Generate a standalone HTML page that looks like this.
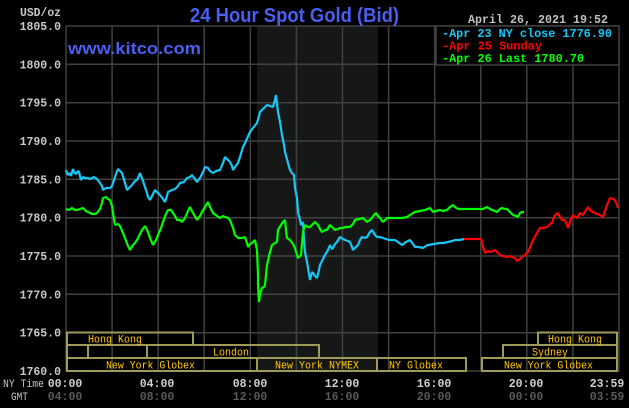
<!DOCTYPE html>
<html><head><meta charset="utf-8"><style>
html,body{margin:0;padding:0;background:#000;}
svg{display:block;}
</style></head><body>
<svg width="629" height="408" viewBox="0 0 629 408" xmlns="http://www.w3.org/2000/svg">
<rect x="0" y="0" width="629" height="408" fill="#000"/>
<rect x="257" y="26" width="121" height="345" fill="#161817"/>
<g stroke="#414141" stroke-width="1.5" fill="none">
<line x1="66" y1="26" x2="619" y2="26"/>
<line x1="66" y1="64.3" x2="619" y2="64.3"/>
<line x1="66" y1="102.7" x2="619" y2="102.7"/>
<line x1="66" y1="141" x2="619" y2="141"/>
<line x1="66" y1="179.3" x2="619" y2="179.3"/>
<line x1="66" y1="217.7" x2="619" y2="217.7"/>
<line x1="66" y1="256" x2="619" y2="256"/>
<line x1="66" y1="294.3" x2="619" y2="294.3"/>
<line x1="66" y1="332.7" x2="619" y2="332.7"/>
<line x1="66" y1="371" x2="619" y2="371"/>
<line x1="66" y1="26" x2="66" y2="371"/>
<line x1="112.1" y1="26" x2="112.1" y2="371"/>
<line x1="158.2" y1="26" x2="158.2" y2="371"/>
<line x1="204.2" y1="26" x2="204.2" y2="371"/>
<line x1="250.3" y1="26" x2="250.3" y2="371"/>
<line x1="296.4" y1="26" x2="296.4" y2="371"/>
<line x1="342.5" y1="26" x2="342.5" y2="371"/>
<line x1="388.6" y1="26" x2="388.6" y2="371"/>
<line x1="434.7" y1="26" x2="434.7" y2="371"/>
<line x1="480.8" y1="26" x2="480.8" y2="371"/>
<line x1="526.8" y1="26" x2="526.8" y2="371"/>
<line x1="572.9" y1="26" x2="572.9" y2="371"/>
<line x1="619" y1="26" x2="619" y2="371"/>
</g>

<!-- Apr 23 cyan -->
<polyline fill="none" stroke="#16c8f8" stroke-width="2.2" stroke-linejoin="bevel" points="66,170 67,173 68,175 70,173 71,176 73,169 74,172 76,174 78,171 79,172 81,180 83,177 85,178 88,178 90,179 94,177 97,179 100,183 102,186 103,190 106,188 110,188 112,186 113,183 116,174 118,169 120,171 122,173 125,183 127,190 130,187 132,185 135,181 137,180 139,176 140,173 142,178 145,187 147,193 148,197 150,200 153,194 155,190 158,193 160,195 163,199 165,202 167,196 168,192 172,190 175,189 178,186 180,183 184,182 187,178 190,177 192,175 195,179 197,182 200,178 203,172 205,167 208,168 210,171 213,173 216,171 220,170 223,163 225,157 228,160 230,162 232,166 233,170 235,167 238,163 240,157 243,147 246,141 250,132 253,128 257,123 259,116 260,112 263,109 267,105 270,106 273,107 275,100 276,95 277,104 278,112 280,122 282,135 284,145 285,152 288,163 290,170 292,173 294,175 295,188 297,198 298,212 300,220 301,225 303,222 304,240 305,252 307,262 308,268 310,280 312,272 313,273 315,276 317,278 319,270 320,265 323,259 325,255 328,250 330,245 332,249 333,248 335,244 337,242 340,237 343,239 345,240 348,241 350,242 352,247 353,250 356,247 358,245 360,240 362,237 365,238 367,237 370,232 372,230 375,235 377,237 380,237 383,238 386,239 389,240 392,240 395,240 398,242 402,245 406,242 410,240 413,244 415,247 419,247 423,248 426,246 428,245 434,244 440,243 444,243 448,242 452,241 455,240 460,240 464,239"/>

<!-- Apr 25 red -->
<polyline fill="none" stroke="#ff0000" stroke-width="2.2" stroke-linejoin="bevel" points="464,239 481,239 483,247 485,253 488,251 490,252 493,251 495,250 498,253 500,255 503,256 507,257 510,256 512,257 515,258 517,261 520,259 522,257 525,255 528,252 531,245 533,240 537,233 540,228 544,228 547,227 550,224 552,223 554,217 555,215 558,213 560,217 562,220 565,220 567,225 568,228 571,219 573,215 575,217 577,218 580,213 583,215 586,210 588,207 591,211 593,212 597,214 600,215 603,217 605,211 607,205 610,198 613,199 615,200 617,205 618,208"/>

<!-- Apr 26 green -->
<polyline fill="none" stroke="#00ff00" stroke-width="2.2" stroke-linejoin="bevel" points="66,209 69,210 72,208 75,210 77,210 80,209 83,208 86,211 88,212 92,214 95,214 97,213 100,209 102,203 103,198 106,197 108,199 110,200 112,206 113,213 114,219 115,225 118,224 120,226 123,233 125,238 128,246 130,250 133,245 135,243 137,240 140,234 142,230 145,226 148,232 150,238 153,245 156,240 158,235 161,228 163,222 166,214 168,210 171,210 173,213 175,216 177,220 180,220 182,222 185,218 188,211 190,207 193,213 197,220 200,216 202,212 205,207 208,202 210,207 213,213 217,216 220,218 223,216 225,217 228,218 230,220 233,228 235,235 238,238 242,238 245,237 247,243 248,247 250,244 252,243 255,240 257,250 258,275 258,285 259,302 260,294 262,288 264,287 265,285 266,275 267,265 270,252 272,245 275,243 277,242 278,230 281,225 283,222 285,220 286,230 287,238 290,240 293,244 295,248 297,255 298,258 301,255 302,244 303,232 305,225 308,227 310,227 313,224 315,222 318,225 320,229 322,232 325,230 327,230 330,225 333,228 335,230 338,229 340,228 343,228 345,227 348,227 350,227 353,224 355,220 359,219 363,218 365,220 367,222 370,220 372,218 374,215 376,213 378,216 380,218 383,222 385,220 387,218 392,218 397,218 402,218 407,217 410,215 413,213 415,212 420,211 425,210 430,208 433,212 436,211 440,210 443,211 447,210 450,207 453,205 455,207 458,209 464,209 470,209 476,209 483,209 487,207 490,209 492,210 495,211 497,212 500,209 502,208 505,209 507,209 510,212 513,215 516,216 518,217 520,213 522,212 524,212"/>

<!-- sessions -->
<g fill="none" stroke="#a09a58" stroke-width="2">
<rect x="67" y="332.5" width="126" height="12.5"/>
<rect x="67" y="345" width="21" height="13"/>
<rect x="147" y="345" width="172" height="13"/>
<rect x="67" y="358" width="190" height="13"/>
<rect x="257" y="358" width="120" height="13"/>
<rect x="377" y="358" width="89" height="13"/>
<rect x="482" y="358" width="135" height="13"/>
<rect x="503" y="345" width="114" height="13"/>
<rect x="538" y="332.5" width="79" height="12.5"/>
</g>
<g font-family="'Liberation Mono', monospace" font-size="11" fill="#ffc800">
<text x="88" y="342.5" textLength="54" lengthAdjust="spacingAndGlyphs">Hong Kong</text>
<text x="213" y="355.5" textLength="36" lengthAdjust="spacingAndGlyphs">London</text>
<text x="106" y="368.5" textLength="89" lengthAdjust="spacingAndGlyphs">New York Globex</text>
<text x="275" y="368.5" textLength="84" lengthAdjust="spacingAndGlyphs">New York NYMEX</text>
<text x="389" y="368.5" textLength="54" lengthAdjust="spacingAndGlyphs">NY Globex</text>
<text x="504" y="368.5" textLength="89" lengthAdjust="spacingAndGlyphs">New York Globex</text>
<text x="532" y="355.5" textLength="36" lengthAdjust="spacingAndGlyphs">Sydney</text>
<text x="548" y="342.5" textLength="54" lengthAdjust="spacingAndGlyphs">Hong Kong</text>
</g>

<!-- legend -->
<rect x="436" y="26" width="183" height="39" fill="#000" stroke="#414141" stroke-width="1.5"/>
<g font-family="'Liberation Mono', monospace" font-size="12" font-weight="bold">
<text x="442" y="37" fill="#16c8f8" textLength="170" lengthAdjust="spacingAndGlyphs">-Apr 23 NY close 1776.90</text>
<text x="442" y="49.5" fill="#ff0000" textLength="100" lengthAdjust="spacingAndGlyphs">-Apr 25 Sunday</text>
<text x="442" y="62" fill="#00ff00" textLength="142" lengthAdjust="spacingAndGlyphs">-Apr 26 Last 1780.70</text>
</g>

<!-- titles -->
<text x="190" y="22" font-family="'Liberation Sans', sans-serif" font-size="20" font-weight="bold" fill="#4a5ff2" textLength="209" lengthAdjust="spacingAndGlyphs">24 Hour Spot Gold (Bid)</text>
<text x="68" y="54" font-family="'Liberation Sans', sans-serif" font-size="17" font-weight="bold" fill="#4a5ff2" textLength="133" lengthAdjust="spacingAndGlyphs">www.kitco.com</text>
<text x="468" y="23" font-family="'Liberation Mono', monospace" font-size="12" font-weight="bold" fill="#c0c0c0" textLength="140" lengthAdjust="spacingAndGlyphs">April 26, 2021 19:52</text>
<text x="20" y="16" font-family="'Liberation Mono', monospace" font-size="11.5" font-weight="bold" fill="#c8c8c8" textLength="41" lengthAdjust="spacingAndGlyphs">USD/oz</text>

<!-- y axis labels -->
<g font-family="'Liberation Mono', monospace" font-size="11.5" font-weight="bold" fill="#c8c8c8" text-anchor="end">
<text x="61" y="30">1805.0</text>
<text x="61" y="68.3">1800.0</text>
<text x="61" y="106.7">1795.0</text>
<text x="61" y="145">1790.0</text>
<text x="61" y="183.3">1785.0</text>
<text x="61" y="221.7">1780.0</text>
<text x="61" y="260">1775.0</text>
<text x="61" y="298.3">1770.0</text>
<text x="61" y="336.7">1765.0</text>
<text x="61" y="375">1760.0</text>
</g>

<!-- x axis labels -->
<text x="3" y="387" font-family="'Liberation Mono', monospace" font-size="11" fill="#c8c8c8" textLength="41" lengthAdjust="spacingAndGlyphs">NY Time</text>
<text x="11" y="400" font-family="'Liberation Mono', monospace" font-size="11" fill="#c8c8c8" textLength="17" lengthAdjust="spacingAndGlyphs">GMT</text>
<g font-family="'Liberation Mono', monospace" font-size="11.5" font-weight="bold" fill="#d0d0d0" text-anchor="middle">
<text x="65" y="387">00:00</text>
<text x="157" y="387">04:00</text>
<text x="250" y="387">08:00</text>
<text x="342" y="387">12:00</text>
<text x="434" y="387">16:00</text>
<text x="526" y="387">20:00</text>
<text x="607" y="387">23:59</text>
</g>
<g font-family="'Liberation Mono', monospace" font-size="11.5" font-weight="bold" fill="#5a5a5a" text-anchor="middle">
<text x="65" y="400">04:00</text>
<text x="157" y="400">08:00</text>
<text x="250" y="400">12:00</text>
<text x="342" y="400">16:00</text>
<text x="434" y="400">20:00</text>
<text x="526" y="400">00:00</text>
<text x="607" y="400">03:59</text>
</g>
</svg>
</body></html>
